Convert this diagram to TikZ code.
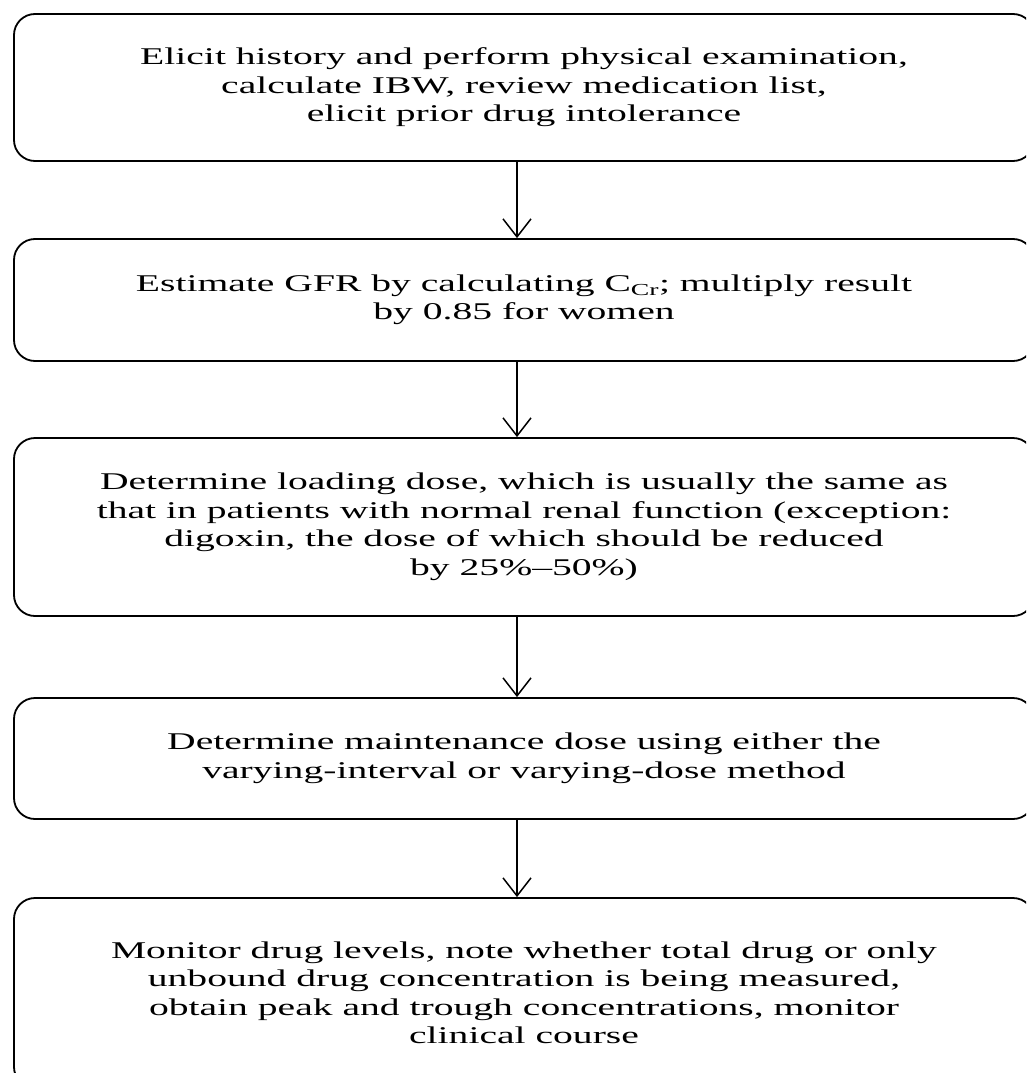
\documentclass[tikz,border=0pt]{standalone}
\usepackage{fontspec}
\setmainfont{Liberation Serif}[FakeStretch=1.65]
\usetikzlibrary{arrows.meta}
\begin{document}
\begin{tikzpicture}[x=1pt,y=-1pt,
  stepbox/.style={draw=black, line width=1.8pt, rounded corners=21pt,
    minimum width=1020pt, inner sep=0pt, align=center,
    font=\fontsize{24}{28.5}\selectfont},
  flow/.style={line width=1.5pt, -{Straight Barb[length=18pt,width=28pt,line width=1.5pt]}}]
\useasboundingbox (0,0) rectangle (1026,1073);
\clip (0,0) rectangle (1026,1073);
\fill[white] (0,0) rectangle (1026,1073);
\coordinate (ax) at (517,0);
\node[stepbox, minimum height=147pt] (b1) at (524,87.5)
  {Elicit history and perform physical examination,\\
   calculate IBW, review medication list,\\
   elicit prior drug intolerance};
\node[stepbox, minimum height=122pt] (b2) at (524,300)
  {Estimate GFR by calculating C\textsubscript{Cr}; multiply result\\
   by 0.85 for women};
\node[stepbox, minimum height=178pt] (b3) at (524,527)
  {Determine loading dose, which is usually the same as\\
   that in patients with normal renal function (exception:\\
   digoxin, the dose of which should be reduced\\
   by 25\%–50\%)};
\node[stepbox, minimum height=121pt] (b4) at (524,758.5)
  {Determine maintenance dose using either the\\
   varying-interval or varying-dose method};
\node[stepbox, minimum height=190pt] (b5) at (524,993)
  {Monitor drug levels, note whether total drug or only\\
   unbound drug concentration is being measured,\\
   obtain peak and trough concentrations, monitor\\
   clinical course};
\draw[flow] (b1.south -| ax) -- (b2.north -| ax);
\draw[flow] (b2.south -| ax) -- (b3.north -| ax);
\draw[flow] (b3.south -| ax) -- (b4.north -| ax);
\draw[flow] (b4.south -| ax) -- (b5.north -| ax);
\end{tikzpicture}
\end{document}
